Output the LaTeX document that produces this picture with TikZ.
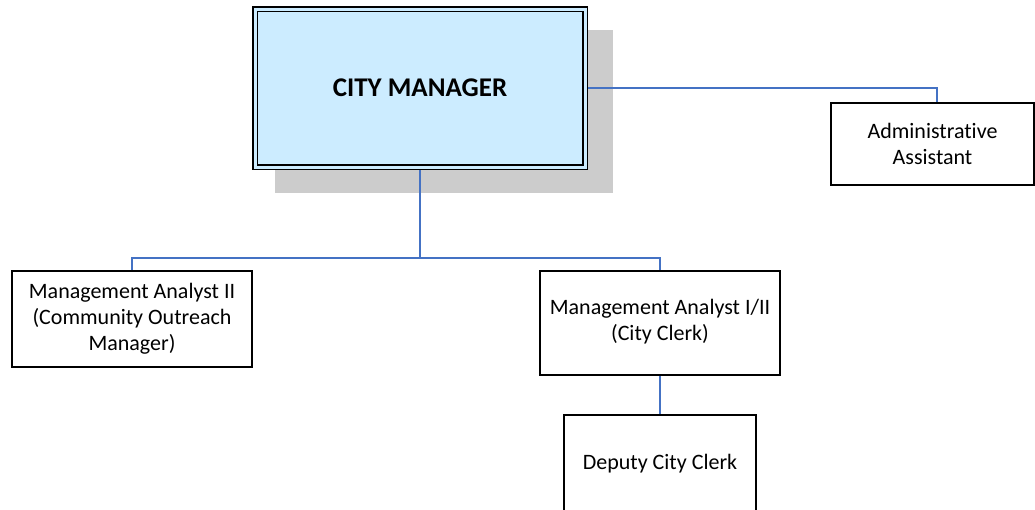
\documentclass[tikz,border=0pt]{standalone}
\usepackage{fontspec}
\setmainfont{Carlito}[Ligatures=NoCommon]
\usetikzlibrary{positioning}
\definecolor{cmfill}{RGB}{204,236,255}
\definecolor{shadowgray}{RGB}{204,204,204}
\definecolor{linkblue}{RGB}{68,114,196}
\tikzset{
  x=1pt, y=-1pt,
  orgbox/.style={draw=black, line width=1.8pt, fill=white, inner sep=0pt, outer sep=0.9pt,
    align=center, font=\fontsize{22}{26}\selectfont},
  link/.style={draw=linkblue, line width=1.5pt},
}
\begin{document}
\begin{tikzpicture}
\useasboundingbox (0,0) rectangle (1035,509);

% drop shadow behind the top box
\fill[shadowgray] (275,30) rectangle (613,193);

% top box with a double black border
\node[draw=black, line width=1.5pt, double=cmfill, double distance=3pt, fill=cmfill,
      minimum width=330pt, minimum height=158pt, inner sep=0pt, outer sep=3pt,
      font=\fontsize{27}{32}\selectfont\bfseries] (cm) at (420,88) {CITY MANAGER};

\node[orgbox, minimum width=203pt, minimum height=82pt] (admin) at (932.5,144)
  {Administrative\\Assistant};
\node[orgbox, minimum width=240pt, minimum height=96pt] (ma2) at (132,319)
  {Management Analyst II\\(Community Outreach\\Manager)};
\node[orgbox, minimum width=240pt, minimum height=104pt, text depth=6pt] (clerk) at (660,323)
  {Management Analyst I/II\\(City Clerk)};
\node[orgbox, minimum width=192pt, minimum height=97pt] (deputy) at (660,463.5)
  {Deputy City Clerk};

\coordinate (bar) at (420,258);

% reporting lines
\draw[link] (cm.east) -| ([xshift=4.5pt]admin.north);
\draw[link] (cm.south) -- (bar);
\draw[link] (ma2.north) |- (bar) -| (clerk.north);
\draw[link] (clerk.south) -- (deputy.north);
\end{tikzpicture}
\end{document}
